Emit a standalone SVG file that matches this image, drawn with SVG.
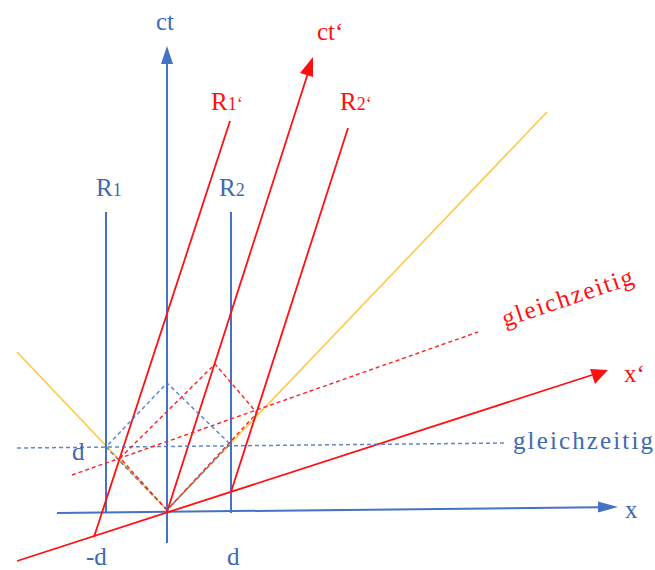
<svg xmlns="http://www.w3.org/2000/svg" width="655" height="570" viewBox="0 0 655 570">
<style>
.bl{stroke:#4472C4;stroke-width:2;fill:none}
.rd{stroke:#FF1010;stroke-width:1.8;fill:none}
.ye{stroke:#FFC845;stroke-width:1.6;fill:none}
.bd{stroke:#4472C4;stroke-width:1.5;stroke-dasharray:4 3;fill:none;opacity:0.85}
.rdd{stroke:#FF2020;stroke-width:1.4;stroke-dasharray:4 3;fill:none}
.tb{font-family:"Liberation Serif",serif;fill:#3E6AB0;font-size:25px}
.tr{font-family:"Liberation Serif",serif;fill:#FF1010;font-size:25px}
</style>
<rect width="655" height="570" fill="#ffffff"/>
<g id="connectors">
  <line class="ye" x1="17" y1="352" x2="167" y2="510"/>
  <line class="ye" x1="167" y1="510" x2="547" y2="112"/>
  <line class="bl" x1="57" y1="513" x2="600" y2="507.2"/>
  <polygon points="618,507 598,501.5 598,512.5" fill="#4472C4"/>
  <line class="bl" x1="167" y1="543" x2="167" y2="62"/>
  <polygon points="167,46 161,64 173,64" fill="#4472C4"/>
  <line class="bl" x1="106" y1="212" x2="106" y2="513"/>
  <line class="bl" x1="231" y1="212" x2="231" y2="513"/>
  <line class="rd" x1="17" y1="561" x2="592" y2="375"/>
  <polygon points="608,370 590,369 595,384" fill="#FF1010"/>
  <line class="rd" x1="167" y1="512" x2="308" y2="73"/>
  <polygon points="313,57 300,73 313,77" fill="#FF1010"/>
  <line class="rd" x1="94" y1="537" x2="230" y2="121"/>
  <line class="rd" x1="231" y1="492" x2="348" y2="128"/>
  <line class="bd" x1="17" y1="448" x2="507" y2="443"/>
  <line class="rdd" x1="72" y1="475" x2="478" y2="332"/>
  <polygon class="bd" points="167,510 106,447 167,383 230,444"/>
  <polygon class="rdd" points="167,510 120,458 215,364 257,413"/>
</g>
<g id="labels">
  <text class="tb" x="156" y="30">ct</text>
  <text class="tr" x="317" y="40">ct‘</text>
  <text class="tb" x="96" y="196" font-size="27">R<tspan font-size="18">1</tspan></text>
  <text class="tb" x="219" y="196" font-size="27">R<tspan font-size="18">2</tspan></text>
  <text class="tr" x="211" y="110" font-size="27">R<tspan font-size="18">1‘</tspan></text>
  <text class="tr" x="340" y="110" font-size="27">R<tspan font-size="18">2‘</tspan></text>
  <text class="tb" x="72" y="460">d</text>
  <text class="tb" x="86" y="565">-d</text>
  <text class="tb" x="227" y="565">d</text>
  <text class="tb" x="625" y="518">x</text>
  <text class="tr" x="624" y="382">x‘</text>
  <text class="tb" x="513" y="449" font-size="26" textLength="140" lengthAdjust="spacing">gleichzeitig</text>
  <text class="tr" x="0" y="0" font-size="26" textLength="137" lengthAdjust="spacing" transform="translate(505,327) rotate(-18.5)">gleichzeitig</text>
</g>
</svg>
